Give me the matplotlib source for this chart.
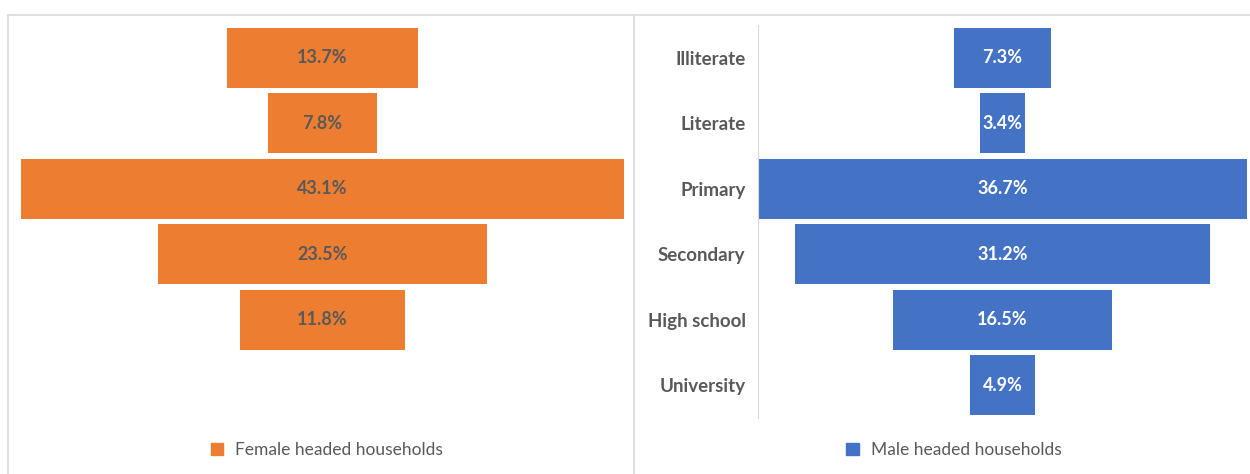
import matplotlib.pyplot as plt
from matplotlib.lines import Line2D
from matplotlib.patches import Patch

plt.rcParams['font.family'] = ['Lato', 'DejaVu Sans']

levels = ["Illiterate", "Literate", "Primary", "Secondary", "High school", "University"]
female = [13.7, 7.8, 43.1, 23.5, 11.8]
male = [7.3, 3.4, 36.7, 31.2, 16.5, 4.9]

orange = "#ED7D31"
blue = "#4472C4"
grey = "#595959"

W, H = 1250, 474
fig = plt.figure(figsize=(W / 100, H / 100), dpi=100)

# panel frames
frame = "#d9d9d9"
fig.add_artist(Line2D([8 / W, 1], [1 - 15 / H, 1 - 15 / H], color=frame, lw=1.2))
fig.add_artist(Line2D([8 / W, 8 / W], [0, 1 - 15 / H], color=frame, lw=1.2))
fig.add_artist(Line2D([634 / W, 634 / W], [0, 1 - 15 / H], color=frame, lw=1.2))

bot = 1 - 418 / H
ht = 393 / H


def funnel(ax, vals, color, txtcolor, label, legx):
    ys = range(len(vals))
    half = max(vals) / 2
    ax.barh(ys, vals, left=[-v / 2 for v in vals], height=0.92, color=color)
    for y, v in zip(ys, vals):
        ax.text(0, y, f"{v}%", ha="center", va="center", color=txtcolor,
                fontsize=13, fontweight="bold")
    ax.set_xlim(-half, half)
    ax.set_ylim(5.5, -0.5)
    ax.set_xticks([])
    for s in ["top", "right", "bottom", "left"]:
        ax.spines[s].set_visible(False)
    fig.legend(handles=[Patch(color=color, label=label)], loc="center",
               bbox_to_anchor=(legx / W, 1 - 450 / H), frameon=False,
               fontsize=12.5, labelcolor=grey, handlelength=0.7,
               handleheight=0.7, handletextpad=0.7)


axl = fig.add_axes([21 / W, bot, 603 / W, ht])
funnel(axl, female, orange, grey, "Female headed households", 327)
axl.set_yticks([])

axr = fig.add_axes([758 / W, bot, 489 / W, ht])
funnel(axr, male, blue, "white", "Male headed households", 954)
axr.set_yticks(range(len(levels)))
axr.set_yticklabels(levels, fontsize=13.5, fontweight="bold", color=grey)
axr.tick_params(axis="y", length=0, pad=9)
axr.spines["left"].set_visible(True)
axr.spines["left"].set_color(frame)

fig.savefig("out.png", dpi=100)
